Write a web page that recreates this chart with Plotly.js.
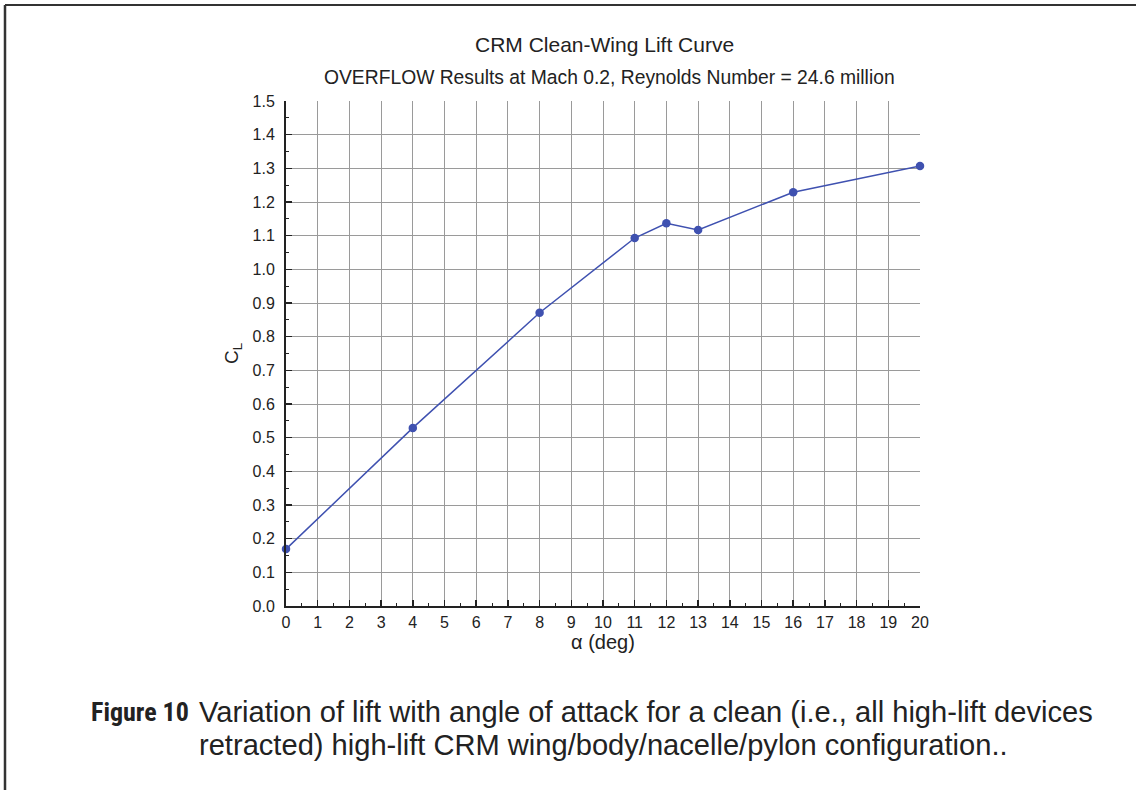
<!DOCTYPE html>
<html>
<head>
<meta charset="utf-8">
<script src="https://cdn.plot.ly/plotly-3.0.1.min.js"></script>
<style>
  html, body { margin: 0; padding: 0; background: #fff; }
  #chart { width: 1136px; height: 790px; }
</style>
</head>
<body>
<div id="chart"></div>
<script>
// Angle of attack (deg) and computed lift coefficient
const alphaDeg = [0, 4, 8, 11, 12, 13, 16, 20];
const liftCoeff = [0.169, 0.529, 0.871, 1.093, 1.137, 1.117, 1.229, 1.307];

const xTicks = [0, 1, 2, 3, 4, 5, 6, 7, 8, 9, 10, 11, 12, 13, 14, 15, 16, 17, 18, 19, 20];
const yTicks = [0, 0.1, 0.2, 0.3, 0.4, 0.5, 0.6, 0.7, 0.8, 0.9, 1.0, 1.1, 1.2, 1.3, 1.4, 1.5];

const FONT = 'Liberation Sans, Arial, Helvetica, sans-serif';
const INK = '#222';
const W = 1136, H = 790;
const L = 286, R = 216, T = 101, B = 184;
const pw = W - L - R, ph = H - T - B;
// pixel -> paper coordinates
const px = v => (v - L) / pw;
const py = v => (H - B - v) / ph;

// use a condensed face for the figure label when one is installed
function fontInstalled(name) {
  const ctx = document.createElement('canvas').getContext('2d');
  const sample = 'Figure 10 wmiWMI';
  ctx.font = '700 40px monospace';
  const base = ctx.measureText(sample).width;
  ctx.font = '700 40px "' + name + '", monospace';
  return ctx.measureText(sample).width !== base;
}
const condensed = ['Liberation Sans Narrow', 'Arial Narrow', 'Roboto Condensed'].find(fontInstalled);
const labelFont = condensed
  ? { family: condensed + ', Liberation Sans, sans-serif', size: 26, color: INK }
  : { family: FONT, size: 24, color: INK };
const labelX = condensed ? 89 : 86;

const trace = {
  x: alphaDeg,
  y: liftCoeff,
  type: 'scatter',
  mode: 'lines+markers',
  line: { color: '#3f51b0', width: 1.5 },
  marker: { color: '#3f51b0', size: 8.5, symbol: 'circle' },
  cliponaxis: false,
  hoverinfo: 'x+y'
};

const axisCommon = {
  showgrid: true,
  gridcolor: '#9a9a9a',
  gridwidth: 1,
  zeroline: false,
  showline: true,
  linecolor: INK,
  linewidth: 2,
  ticks: 'inside',
  ticklen: 6,
  tickwidth: 1.5,
  tickcolor: INK,
  tickfont: { family: FONT, size: 16, color: INK },
  mirror: false
};

const layout = {
  width: W,
  height: H,
  margin: { l: L, r: R, t: T, b: B, pad: 0 },
  paper_bgcolor: '#fff',
  plot_bgcolor: '#fff',
  showlegend: false,
  xaxis: Object.assign({}, axisCommon, {
    range: [0, 20],
    tickvals: xTicks,
    ticktext: xTicks.map(String),
    ticklabelstandoff: 1,
    minor: { dtick: 0.5, tick0: 0, ticks: 'inside', ticklen: 3, tickwidth: 1, tickcolor: INK, showgrid: false },
    title: { text: '\u03b1 (deg)', font: { family: FONT, size: 20, color: INK }, standoff: 2 }
  }),
  yaxis: Object.assign({}, axisCommon, {
    range: [0, 1.5],
    tickvals: yTicks,
    ticktext: yTicks.map(v => v.toFixed(1)),
    ticklabelstandoff: 6,
    minor: { dtick: 0.05, tick0: 0, ticks: 'inside', ticklen: 3, tickwidth: 1, tickcolor: INK, showgrid: false },
    title: { text: 'C<sub>L</sub>', font: { family: FONT, size: 19, color: INK }, standoff: 9 }
  }),
  annotations: [
    {
      text: 'CRM Clean-Wing Lift Curve',
      xref: 'paper', yref: 'paper', x: px(604), y: py(45),
      xanchor: 'center', yanchor: 'middle', showarrow: false,
      font: { family: FONT, size: 21, color: INK }
    },
    {
      text: 'OVERFLOW Results at Mach 0.2, Reynolds Number = 24.6 million',
      xref: 'paper', yref: 'paper', x: px(609), y: py(78),
      xanchor: 'center', yanchor: 'middle', showarrow: false,
      font: { family: FONT, size: 19.3, color: INK }
    },
    {
      text: '<b>Figure 10</b>',
      xref: 'paper', yref: 'paper', x: px(labelX), y: py(712),
      xanchor: 'left', yanchor: 'middle', showarrow: false,
      font: labelFont
    },
    {
      text: 'Variation of lift with angle of attack for a clean (i.e., all high-lift devices',
      xref: 'paper', yref: 'paper', x: px(197), y: py(712),
      xanchor: 'left', yanchor: 'middle', showarrow: false,
      font: { family: FONT, size: 29.1, color: INK }
    },
    {
      text: 'retracted) high-lift CRM wing/body/nacelle/pylon configuration..',
      xref: 'paper', yref: 'paper', x: px(197), y: py(745),
      xanchor: 'left', yanchor: 'middle', showarrow: false,
      font: { family: FONT, size: 29.1, color: INK }
    }
  ],
  shapes: [
    // page frame: top and left rules
    { type: 'line', xref: 'paper', yref: 'paper', x0: px(5), x1: px(1136), y0: py(5), y1: py(5), line: { color: '#333', width: 2 } },
    { type: 'line', xref: 'paper', yref: 'paper', x0: px(5), x1: px(5), y0: py(5), y1: py(790), line: { color: '#333', width: 2.5 } }
  ]
};

Plotly.newPlot('chart', [trace], layout, { displayModeBar: false, staticPlot: true });
</script>
</body>
</html>
